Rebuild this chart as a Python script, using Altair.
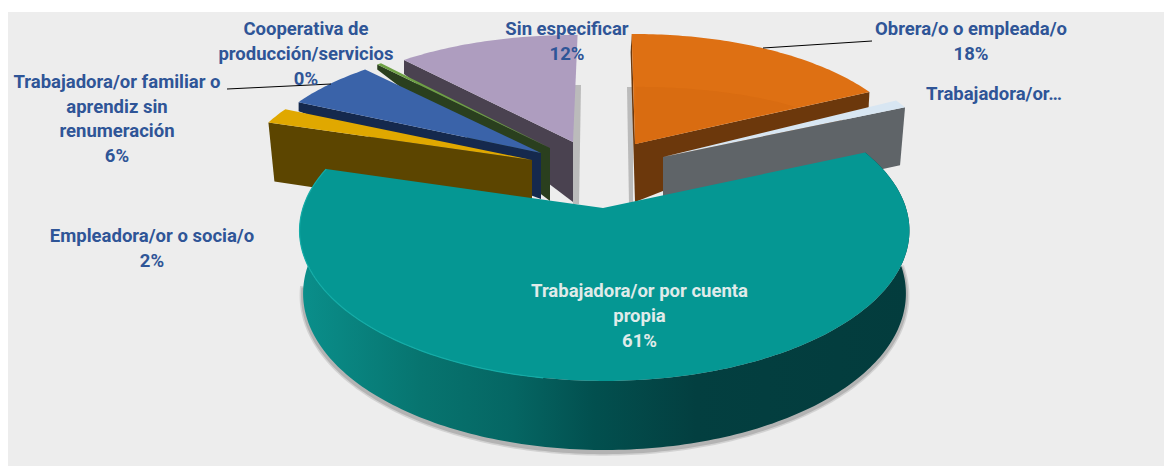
import math
import altair as alt
import pandas as pd

# ---- data -------------------------------------------------------------
categories = ["Obrera/o o empleada/o", "Trabajadora/or…", "Trabajadora/or por cuenta propia",
              "Empleadora/or o socia/o", "Trabajadora/or familiar o aprendiz sin renumeración",
              "Cooperativa de producción/servicios", "Sin especificar"]
shares = [18, 1, 61, 2, 6, 0.3, 12]

# ---- 3-D look of each slice (page pixels) ------------------------------
START = -2.0
P = 0.15
style = {
    categories[0]: dict(apex=(635, 144), rx=278, ry=126.5, turn=1.2, top="#de7013", face="#6c380c", da=58, dr=18, dx=-1, sides="both"),
    categories[1]: dict(apex=(663, 157), rx=280, ry=132, turn=0, top="#d8e6f2", face="#5f6468", da=60, dr=58, dx=-5, sides="end"),
    categories[2]: dict(apex=(603, 208), rx=301.5, ry=147, turn=0, shift=1.5, top="#059793", face="#033c3d", da=62, dr=62, dx=0, sides="none"),
    categories[3]: dict(apex=(532, 160), rx=290, ry=127, turn=2, top="#e0a800", face="#5c4500", da=60, dr=59, dx=6, sides="start"),
    categories[4]: dict(apex=(541, 153), rx=285, ry=127, turn=2, top="#3a63a9", face="#15294d", da=46, dr=9, dx=0, sides="start"),
    categories[5]: dict(apex=(550, 148), rx=280, ry=127, turn=2, top="#6ea144", face="#2a3f1e", da=53, dr=5, dx=0, sides="start"),
    categories[6]: dict(apex=(573, 142), rx=280, ry=123, turn=2, top="#ae9dbf", face="#4a4250", da=60, dr=14, dx=0, sides="start"),
}
BACKGROUND = "#ededed"
BLUE_TEXT = "#2f5597"
FONT = "Roboto"
FONT_SIZE = 18.5

PROJ = alt.Projection(type="identity", scale=1, translate=[0, 0])
RIGHT, BOTTOM = 1164, 466


def rim(st, deg, rx=None, ry=None, dy=0.0, k=1.0):
    t = math.radians(deg)
    s, c = math.sin(t), math.cos(t)
    f = 1.0 / (1.0 + P * c)
    return (st["apex"][0] + st.get("shift", 0) + (rx or st["rx"]) * k * s * f,
            st["apex"][1] + dy - (ry or st["ry"]) * k * c * f)


def arc(st, a, b, **kw):
    n = max(2, int(abs(b - a)) + 1)
    return [rim(st, a + (b - a) * i / (n - 1), **kw) for i in range(n)]


def poly(points, **mark):
    ring = [[x - 8, y - 8] for x, y in points]
    ring.append(ring[0])
    feature = {"type": "Feature", "properties": {}, "geometry": {"type": "Polygon", "coordinates": [ring]}}
    mark.setdefault("strokeWidth", 0)
    return alt.Chart(alt.Data(values=[feature])).mark_geoshape(**mark).project(**PROJ.to_dict())


def path(points, **mark):
    line = [[x - 8, y - 8] for x, y in points]
    feature = {"type": "Feature", "properties": {}, "geometry": {"type": "LineString", "coordinates": line}}
    return alt.Chart(alt.Data(values=[feature])).mark_geoshape(filled=False, **mark).project(**PROJ.to_dict())


# angular extent of each slice from the shares
spans = {}
running = START
for name, share in zip(categories, shares):
    st = style[name]
    spans[name] = (running + st["turn"], running + st["turn"] + share * 3.6)
    running += share * 3.6


def cut_face(st, deg):
    ax, ay = st["apex"]
    rx_, ry_ = rim(st, deg)
    return [(ax, ay), (rx_, ry_), (rx_ + st["dx"], ry_ + st["dr"]), (ax, ay + st["da"])]


def flat_slice(name):
    st = style[name]
    a, b = spans[name]
    out = []
    if st["sides"] in ("start", "both"):
        out.append(poly(cut_face(st, a), fill=st["face"]))
    if st["sides"] in ("end", "both"):
        out.append(poly(cut_face(st, b), fill=st["face"]))
    out.append(poly([st["apex"]] + arc(st, a, b), fill=st["top"]))
    return out


layers = [poly([(8, 8), (RIGHT, 8), (RIGHT, BOTTOM), (8, BOTTOM)], fill="#ffffff"),
          poly([(8, 12), (RIGHT, 12), (RIGHT, BOTTOM), (8, BOTTOM)], fill=BACKGROUND)]

# soft shadows beside the back slices
purple, orange = style[categories[6]], style[categories[0]]
px, py = purple["apex"]
ox, oy = orange["apex"]
layers.append(poly([(px, py - 57), (px + 8, py - 57), (px + 6, py + 62), (px, py + 62)], fill="#8a8a8a", opacity=0.5))
layers.append(poly([(ox - 8, oy - 57), (ox - 2, oy - 57), (ox - 2, oy + 60), (ox - 6, oy + 60)], fill="#8a8a8a", opacity=0.5))

for idx in (6, 5, 4, 3, 0, 1):
    layers += flat_slice(categories[idx])

# faint darker tone on the orange top, kept inside the top face
oa, ob = spans[categories[0]]
layers.append(poly([orange["apex"]] + arc(orange, oa + 1, ob - 12, rx=orange["rx"] * 0.8, ry=orange["ry"] * 0.52), fill="#d96c11"))

# big slice: shadow under the lower rim, side wall, top, bright rim
teal_name = categories[2]
teal = style[teal_name]
ta, tb = spans[teal_name]
lower = dict(rx=298, ry=153, dy=62)
wall = arc(teal, ta, tb) + arc(teal, tb, ta, **lower)
under = arc(teal, ta + 22, tb - 22, rx=299, ry=154, dy=64)
layers.append(poly(under, fill="#8f8f8f", stroke="#8f8f8f", strokeWidth=5, opacity=0.28))
layers.append(poly(under, fill="#8f8f8f", stroke="#8f8f8f", strokeWidth=2, opacity=0.45))
layers.append(poly(wall, fill=alt.Gradient(
    gradient="linear", x1=0, x2=1, y1=0, y2=0,
    stops=[alt.GradientStop(offset=0, color="#0a8f8b"),
           alt.GradientStop(offset=0.2, color="#07746f"),
           alt.GradientStop(offset=0.35, color="#056663"),
           alt.GradientStop(offset=0.48, color="#02504f"),
           alt.GradientStop(offset=0.65, color="#033f40"),
           alt.GradientStop(offset=1, color="#033c3d")])))
layers.append(poly([teal["apex"]] + arc(teal, ta, tb), fill=teal["top"]))
layers.append(path(arc(teal, 190, tb), stroke="#14aca7", strokeWidth=1.2))

# leader lines
for (x1, y1), (x2, y2) in [(((763 - 8), 48 - 8), (872 - 8, 41 - 8)), ((331 - 8, 84 - 8), (227 - 8, 89 - 8))]:
    layers.append(alt.Chart(alt.Data(values=[{}])).mark_rule(color="#000000", strokeWidth=1).encode(
        x=alt.value(x1), x2=alt.value(x2), y=alt.value(y1), y2=alt.value(y2)))

# labels: text, centre x, centre y (page pixels), colour
label_lines = ["Cooperativa de", "producción/servicios", "0%",
               "Trabajadora/or familiar o", "aprendiz sin", "renumeración", "6%",
               "Empleadora/or o socia/o", "2%",
               "Sin especificar", "12%",
               "Obrera/o o empleada/o", "18%",
               "Trabajadora/or…",
               "Trabajadora/or por cuenta", "propia", "61%"]
label_x = [306, 306, 306, 117, 117, 117, 117, 152, 152, 567, 567, 971, 971, 994, 639.5, 639.5, 639.5]
label_y = [29, 54, 79, 82, 107, 131, 156, 236, 261, 29, 54, 29, 54, 94, 291, 316, 341]
for i, line in enumerate(label_lines):
    colour = "#e0ebea" if i >= 14 else BLUE_TEXT
    layers.append(alt.Chart(pd.DataFrame({"t": [line]})).mark_text(
        font=FONT, fontSize=FONT_SIZE, fontWeight="bold", color=colour, align="center", baseline="middle"
    ).encode(text="t:N", x=alt.value(label_x[i] - 8), y=alt.value(label_y[i] - 8)))

chart = alt.layer(*layers).properties(
    width=1156, height=458, padding=0, autosize=alt.AutoSizeParams(type="none")
).configure_view(stroke=None, clip=False)

chart.save("out.html", embed_options={"renderer": "svg", "actions": False})
